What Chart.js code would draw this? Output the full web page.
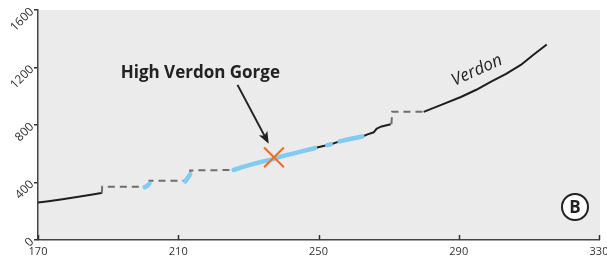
<!DOCTYPE html>
<html lang="en">
<head>
<meta charset="UTF-8">
<title>Verdon profile</title>
<style>
  body { margin: 0; background: #fff; }
  canvas { display: block; }
</style>
</head>
<body>
<canvas id="profile" width="607" height="257"></canvas>

<script src="https://cdn.jsdelivr.net/npm/chart.js@4.4.7/dist/chart.umd.min.js"></script>
<script>
// axis ticks
const xTicks = [170, 210, 250, 290, 330];
const yTicks = [0, 400, 800, 1200, 1600];

// solid black river profile (null = gap)
const riverX = [170, 173, 177, 182, 186, 188, 188.3, null,
  244.9, 247.7, 249, 252, 254, 256, 258, 260, 262.5, 264, 265.8, 266.6, 268, 270.6, null,
  280, 285, 290.6, 295, 299.1, 303.5, 307.7, 311.4, 315.1];
const riverY = [260, 270, 284, 302, 318, 327, 330, null,
  615, 631, 640, 658, 670, 686, 697, 708, 720, 735, 750, 775, 790, 805, null,
  891, 940, 995, 1045, 1100, 1155, 1218, 1290, 1360];

// dashed grey stretches (no data)
const gapX = [188.2, 188.3, 200.6, null, 201.8, 201.8, 212, null, 213.4, 213.4, 225.8, null, 270.8, 271, 280];
const gapY = [327, 371, 371, null, 392, 413, 413, null, 458, 484, 487, null, 805, 893, 893];

// light blue stretches
const blueX = [200.4, 201, 201.8, null, 212, 212.7, 213.4, null,
  225.8, 228, 231.5, 234, 236.8, 239, 241.1, 243, 244.9, 247.7, 249, null,
  252.5, 253.5, null, 256, 258, 260, 262.5];
const blueY = [368, 374, 392, null, 408, 432, 458, null,
  487, 505, 529, 545, 561, 578, 592, 603, 615, 631, 640, null,
  660, 666, null, 686, 697, 708, 720];

// High Verdon Gorge marker
const gorgeX = [237.3];
const gorgeY = [575];

const toPoints = (xs, ys) => xs.map((x, i) => ({ x: x, y: ys[i] }));

// grey plot background
const bgPlugin = {
  id: 'bg',
  beforeDraw(chart) {
    const a = chart.chartArea;
    const c = chart.ctx;
    c.save();
    c.fillStyle = '#ebebeb';
    c.fillRect(a.left, a.top, a.right - a.left + 1, a.bottom - a.top);
    c.restore();
  }
};

// inward x ticks, labels, arrow, badge
const notesPlugin = {
  id: 'notes',
  afterDraw(chart) {
    const c = chart.ctx;
    const xs = chart.scales.x;
    const ys = chart.scales.y;
    const a = chart.chartArea;
    c.save();

    // x ticks pointing up
    c.strokeStyle = '#333';
    c.lineWidth = 1.5;
    xTicks.forEach(v => {
      const px = Math.round(xs.getPixelForValue(v)) + 0.5;
      c.beginPath();
      c.moveTo(px, a.bottom);
      c.lineTo(px, a.bottom - 5);
      c.stroke();
    });

    // gorge label
    c.fillStyle = '#222';
    c.font = 'bold 17px "Open Sans"';
    c.textAlign = 'center';
    c.textBaseline = 'middle';
    c.fillText('High Verdon Gorge', xs.getPixelForValue(216.3), ys.getPixelForValue(1162));

    // arrow
    const x0 = xs.getPixelForValue(226.9), y0 = ys.getPixelForValue(1079);
    const x1 = xs.getPixelForValue(235.8), y1 = ys.getPixelForValue(670);
    const ang = Math.atan2(y1 - y0, x1 - x0);
    c.strokeStyle = '#222';
    c.lineWidth = 2;
    c.beginPath();
    c.moveTo(x0, y0);
    c.lineTo(x1 - 8 * Math.cos(ang), y1 - 8 * Math.sin(ang));
    c.stroke();
    c.beginPath();
    c.moveTo(x1, y1);
    c.lineTo(x1 - 13 * Math.cos(ang - 0.38), y1 - 13 * Math.sin(ang - 0.38));
    c.lineTo(x1 - 9 * Math.cos(ang), y1 - 9 * Math.sin(ang));
    c.lineTo(x1 - 13 * Math.cos(ang + 0.38), y1 - 13 * Math.sin(ang + 0.38));
    c.closePath();
    c.fill();

    // river name
    c.save();
    c.translate(xs.getPixelForValue(295.2), ys.getPixelForValue(1180));
    c.rotate(-0.43);
    c.font = 'italic 17px "Open Sans"';
    c.fillText('Verdon', 0, 0);
    c.restore();

    // panel badge
    const bx = a.right - 24, by = a.bottom - 33;
    c.lineWidth = 2;
    c.fillStyle = '#fff';
    c.beginPath();
    c.arc(bx, by, 13, 0, Math.PI * 2);
    c.fill();
    c.stroke();
    c.fillStyle = '#222';
    c.font = 'bold 17px "Open Sans"';
    c.fillText('B', bx, by + 1);

    c.restore();
  }
};

new Chart(document.getElementById('profile'), {
  type: 'line',
  data: {
    datasets: [
      {
        data: toPoints(gorgeX, gorgeY),
        showLine: false,
        pointStyle: 'crossRot',
        pointRadius: 14,
        pointBorderWidth: 2,
        pointBorderColor: '#f26b21',
        order: 0
      },
      {
        data: toPoints(blueX, blueY),
        borderColor: '#80cbf1',
        borderWidth: 4.5,
        borderCapStyle: 'round',
        borderJoinStyle: 'round',
        pointRadius: 0,
        order: 1
      },
      {
        data: toPoints(gapX, gapY),
        borderColor: '#6e6e6e',
        borderWidth: 2,
        borderDash: [7, 5],
        pointRadius: 0,
        order: 2
      },
      {
        data: toPoints(riverX, riverY),
        borderColor: '#1e1e1e',
        borderWidth: 2,
        borderJoinStyle: 'round',
        pointRadius: 0,
        order: 3
      }
    ]
  },
  options: {
    responsive: false,
    animation: false,
    devicePixelRatio: 1,
    spanGaps: false,
    layout: { autoPadding: false, padding: { top: 10, right: 8, left: 0, bottom: 0 } },
    plugins: {
      legend: { display: false },
      tooltip: { enabled: false }
    },
    scales: {
      x: {
        type: 'linear',
        min: xTicks[0],
        max: xTicks[xTicks.length - 1],
        afterBuildTicks: s => { s.ticks = xTicks.map(v => ({ value: v })); },
        ticks: { color: '#333', font: { family: 'Open Sans', size: 11 }, padding: -3, maxRotation: 0,
          callback: v => String(v) },
        grid: { display: false },
        border: { display: true, color: '#444', width: 1.5 },
        afterFit: s => { s.height = 17; s.paddingLeft = 0; s.paddingRight = 0; }
      },
      y: {
        min: yTicks[0],
        max: yTicks[yTicks.length - 1],
        afterBuildTicks: s => { s.ticks = yTicks.map(v => ({ value: v })); },
        ticks: { color: '#333', font: { family: 'Open Sans', size: 12 }, padding: 2, minRotation: 45, maxRotation: 45,
          callback: v => String(v) },
        grid: { drawOnChartArea: false, drawTicks: true, tickLength: 4, color: '#333', lineWidth: 1.5 },
        border: { display: true, color: '#444', width: 1.5 },
        afterFit: s => { s.width = 38; s.paddingTop = 0; s.paddingBottom = 0; }
      }
    }
  },
  plugins: [bgPlugin, notesPlugin]
});
</script>
</body>
</html>
